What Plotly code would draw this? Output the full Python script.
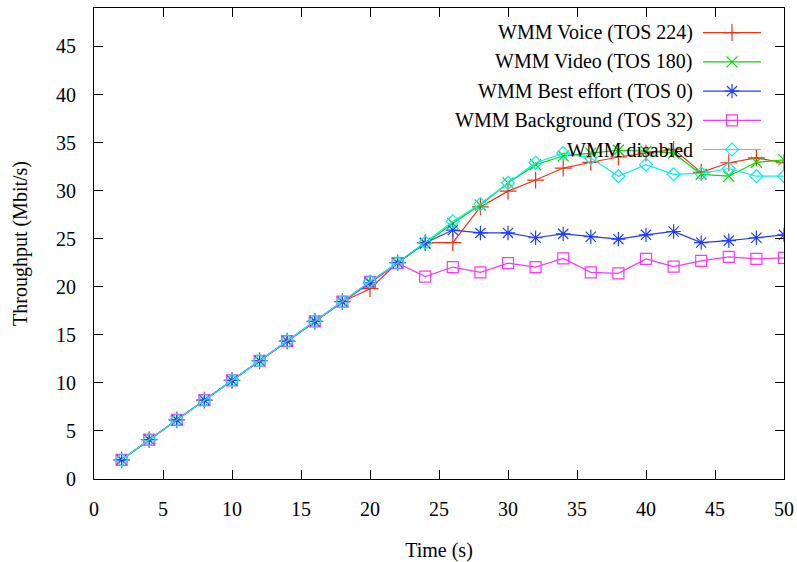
import plotly.graph_objects as go

time_s = [2, 4, 6, 8, 10, 12, 14, 16, 18, 20, 22, 24, 26, 28, 30, 32, 34, 36, 38, 40, 42, 44, 46, 48, 50]

voice = [2.0, 4.1, 6.15, 8.2, 10.25, 12.3, 14.35, 16.4, 18.45, 19.8, 22.5, 24.6, 24.6, 28.3, 29.95, 31.1, 32.35, 32.95, 33.5, 33.9, 34.3, 31.9, 32.9, 33.4, 32.9]
video = [2.0, 4.1, 6.15, 8.2, 10.25, 12.3, 14.35, 16.4, 18.45, 20.5, 22.5, 24.5, 26.6, 28.5, 30.8, 32.7, 33.6, 33.9, 34.2, 34.1, 33.9, 31.7, 31.5, 32.95, 33.2]
best_effort = [2.0, 4.1, 6.15, 8.2, 10.25, 12.3, 14.35, 16.4, 18.45, 20.4, 22.5, 24.55, 25.9, 25.6, 25.6, 25.1, 25.5, 25.2, 24.95, 25.4, 25.75, 24.6, 24.8, 25.1, 25.4]
background = [2.0, 4.1, 6.15, 8.2, 10.25, 12.3, 14.35, 16.4, 18.45, 20.5, 22.45, 21.05, 22.05, 21.5, 22.45, 22.05, 22.95, 21.5, 21.4, 22.9, 22.1, 22.7, 23.1, 22.9, 23.0]
disabled = [2.0, 4.1, 6.15, 8.2, 10.25, 12.3, 14.35, 16.4, 18.45, 20.55, 22.5, 24.6, 26.8, 28.6, 30.8, 32.9, 33.9, 33.4, 31.5, 32.7, 31.7, 31.8, 32.3, 31.5, 31.5]

names = ["WMM Voice (TOS 224)", "WMM Video (TOS 180)", "WMM Best effort (TOS 0)",
         "WMM Background (TOS 32)", "WMM disabled"]
series = [voice, video, best_effort, background, disabled]
colors = ["#ff2a10", "#00dd00", "#1f3cff", "#ff33ff", "#00f0f0"]
symbols = ["cross-thin", "x-thin", "asterisk-open", "square-open", "diamond-open"]
sizes = [12, 11, 12, 11, 10]

x_ticks = [0, 5, 10, 15, 20, 25, 30, 35, 40, 45, 50]
y_ticks = [0, 5, 10, 15, 20, 25, 30, 35, 40, 45]

FONT = "'Liberation Serif', 'DejaVu Serif', serif"
FS = 20

fig = go.Figure()
for name, vals, c, s, sz in zip(names, series, colors, symbols, sizes):
    fig.add_trace(go.Scatter(
        x=time_s, y=vals, mode="lines+markers", name=name, showlegend=False,
        line=dict(color=c, width=1.2),
        marker=dict(symbol=s, size=sz, color=c, line=dict(color=c, width=1.2)),
    ))

# gnuplot-style legend (text right-aligned, sample to the right) on an overlay axis
L, R, T, B = 94, 784, 8, 479
W, H = R - L, B - T
row_y0 = 32.7
row_dy = 29.2
for i, (name, c, s, sz) in enumerate(zip(names, colors, symbols, sizes)):
    py = row_y0 + i * row_dy
    yp = (B - py) / H
    x0 = (703 - L) / W
    x1 = (761 - L) / W
    xm = (732 - L) / W
    fig.add_trace(go.Scatter(
        x=[x0, x1], y=[yp, yp], xaxis="x2", yaxis="y2", mode="lines",
        line=dict(color=c, width=1.2), showlegend=False, hoverinfo="skip"))
    fig.add_trace(go.Scatter(
        x=[xm], y=[yp], xaxis="x2", yaxis="y2", mode="markers",
        marker=dict(symbol=s, size=sz, color=c, line=dict(color=c, width=1.2)),
        showlegend=False, hoverinfo="skip"))
    fig.add_annotation(x=(695 - L) / W, y=yp, xref="x2", yref="y2", text=name,
                       showarrow=False, xanchor="right", yanchor="middle",
                       font=dict(family=FONT, size=FS, color="black"))

axis_common = dict(
    showgrid=False, zeroline=False, showline=True, linecolor="black", linewidth=1,
    mirror="ticks", ticks="inside", ticklen=9, tickcolor="black", tickwidth=1,
    tickfont=dict(family=FONT, size=FS, color="black"), automargin=False,
)

fig.update_layout(
    width=797, height=562,
    margin=dict(l=L, r=797 - R, t=T, b=562 - B),
    plot_bgcolor="white", paper_bgcolor="white",
    showlegend=False,
    font=dict(family=FONT, size=FS, color="black"),
    xaxis=dict(range=[0, 50], tickvals=x_ticks, ticklabelstandoff=12,
               title=dict(text="Time (s)", font=dict(family=FONT, size=FS, color="black"), standoff=25),
               **axis_common),
    yaxis=dict(range=[0, 49], tickvals=y_ticks, ticklabelstandoff=13,
               title=dict(text="Throughput (Mbit/s)", font=dict(family=FONT, size=FS, color="black"), standoff=23),
               **axis_common),
    xaxis2=dict(overlaying="x", range=[0, 1], visible=False, fixedrange=True),
    yaxis2=dict(overlaying="y", range=[0, 1], visible=False, fixedrange=True),
)

fig.write_html("out.html")
